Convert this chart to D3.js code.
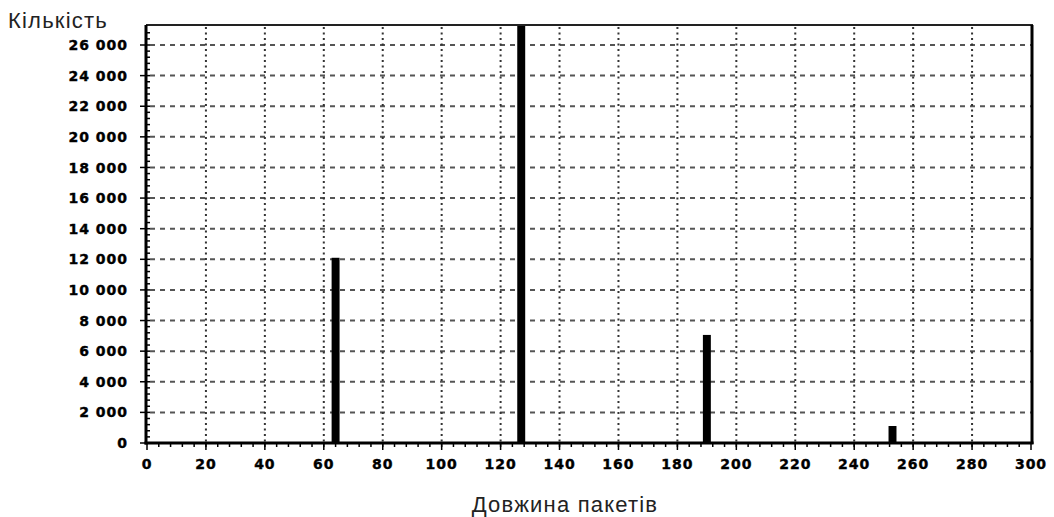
<!DOCTYPE html>
<html lang="uk">
<head>
  <meta charset="UTF-8">
  <title>Довжина пакетів</title>
  <script src="https://d3js.org/d3.v7.min.js"></script>
  <style>
    body {
      margin: 0;
      background: #fff;
    }

    .tick-label {
      font-family: "DejaVu Sans", sans-serif;
      font-weight: bold;
      font-size: 14px;
      letter-spacing: 1px;
      fill: #000;
      stroke: #000;
      stroke-width: 0.4px;
    }

    .axis-title {
      font-family: "Liberation Sans", Arial, sans-serif;
      font-size: 22px;
      letter-spacing: 1.2px;
      fill: #222;
    }
  </style>
</head>
<body>
  <svg width="1054" height="517"></svg>

  <script>
    // packet lengths and their counts
    const lengths = [64, 127, 190, 253];
    const counts = [12100, 28000, 7060, 1110];
    const xTicks = d3.range(0, 301, 20);
    const yTicks = d3.range(0, 26001, 2000);

    const pL = 146, pR = 1031, pT = 25, pB = 443;
    const barWidth = 2.7;

    const svg = d3.select("svg");

    const x = d3.scaleLinear().domain([0, 300]).range([pL + 1, pR]);
    const y = d3.scaleLinear().domain([0, 26000]).range([pB, 45]);

    const fmt = d => d3.format(",")(d).replace(/,/g, " ");

    svg.append("defs").append("clipPath").attr("id", "plot")
      .append("rect")
      .attr("x", pL).attr("y", pT)
      .attr("width", pR - pL).attr("height", pB - pT);

    // horizontal dashed grid
    svg.append("g")
      .selectAll("line")
      .data(yTicks.filter(d => d > 0))
      .join("line")
      .attr("x1", pL + 4).attr("x2", pR)
      .attr("y1", d => y(d)).attr("y2", d => y(d))
      .attr("stroke", "#555")
      .attr("stroke-width", 2)
      .attr("stroke-dasharray", "5,5");

    // vertical dotted grid
    svg.append("g")
      .selectAll("line")
      .data(xTicks.filter(d => d > 0 && d < 300))
      .join("line")
      .attr("x1", d => x(d)).attr("x2", d => x(d))
      .attr("y1", pT + 2).attr("y2", pB)
      .attr("stroke", "#333")
      .attr("stroke-width", 2)
      .attr("stroke-dasharray", "2,3.5");

    // bars
    svg.append("g")
      .attr("clip-path", "url(#plot)")
      .selectAll("rect")
      .data(lengths)
      .join("rect")
      .attr("x", d => x(d - barWidth / 2))
      .attr("width", x(barWidth) - x(0))
      .attr("y", (d, i) => y(counts[i]))
      .attr("height", (d, i) => pB - y(counts[i]))
      .attr("fill", "#000");

    // minor ticks
    svg.append("g")
      .selectAll("line")
      .data(d3.range(400, 27200, 400))
      .join("line")
      .attr("x1", pL).attr("x2", pL + 4)
      .attr("y1", d => y(d)).attr("y2", d => y(d))
      .attr("stroke", "#000").attr("stroke-width", 1.5);

    svg.append("g")
      .selectAll("line")
      .data(d3.range(4, 300, 4))
      .join("line")
      .attr("x1", d => x(d)).attr("x2", d => x(d))
      .attr("y1", pB).attr("y2", pB + 4)
      .attr("stroke", "#000").attr("stroke-width", 1.5);

    // frame
    svg.append("line").attr("x1", pL).attr("x2", pR + 2).attr("y1", pT).attr("y2", pT)
      .attr("stroke", "#222").attr("stroke-width", 2);
    svg.append("line").attr("x1", pR + 1).attr("x2", pR + 1).attr("y1", pT).attr("y2", pB + 1)
      .attr("stroke", "#000").attr("stroke-width", 3);
    svg.append("line").attr("x1", pL).attr("x2", pL).attr("y1", pT).attr("y2", pB + 1.5)
      .attr("stroke", "#000").attr("stroke-width", 3);
    svg.append("line").attr("x1", pL - 1.5).attr("x2", pR + 2.5).attr("y1", pB).attr("y2", pB)
      .attr("stroke", "#000").attr("stroke-width", 3);

    // y major ticks + labels
    const yg = svg.append("g").selectAll("g").data(yTicks).join("g")
      .attr("transform", d => `translate(0,${y(d)})`);
    yg.append("line").attr("x1", pL - 6).attr("x2", pL)
      .attr("stroke", "#000").attr("stroke-width", 1.5);
    yg.append("text").attr("class", "tick-label")
      .attr("x", 128).attr("dy", "0.36em")
      .attr("text-anchor", "end")
      .text(fmt);

    // x major ticks + labels
    const xg = svg.append("g").selectAll("g").data(xTicks).join("g")
      .attr("transform", d => `translate(${x(d)},0)`);
    xg.append("line").attr("y1", pB).attr("y2", pB + 7)
      .attr("stroke", "#000").attr("stroke-width", 1.5);
    xg.append("text").attr("class", "tick-label")
      .attr("y", 469)
      .attr("text-anchor", "middle")
      .text(d => d);

    svg.append("text").attr("class", "axis-title")
      .attr("x", 8).attr("y", 28)
      .text("Кількість");

    svg.append("text").attr("class", "axis-title")
      .attr("x", 565).attr("y", 512)
      .attr("text-anchor", "middle")
      .text("Довжина пакетів");
  </script>
</body>
</html>
